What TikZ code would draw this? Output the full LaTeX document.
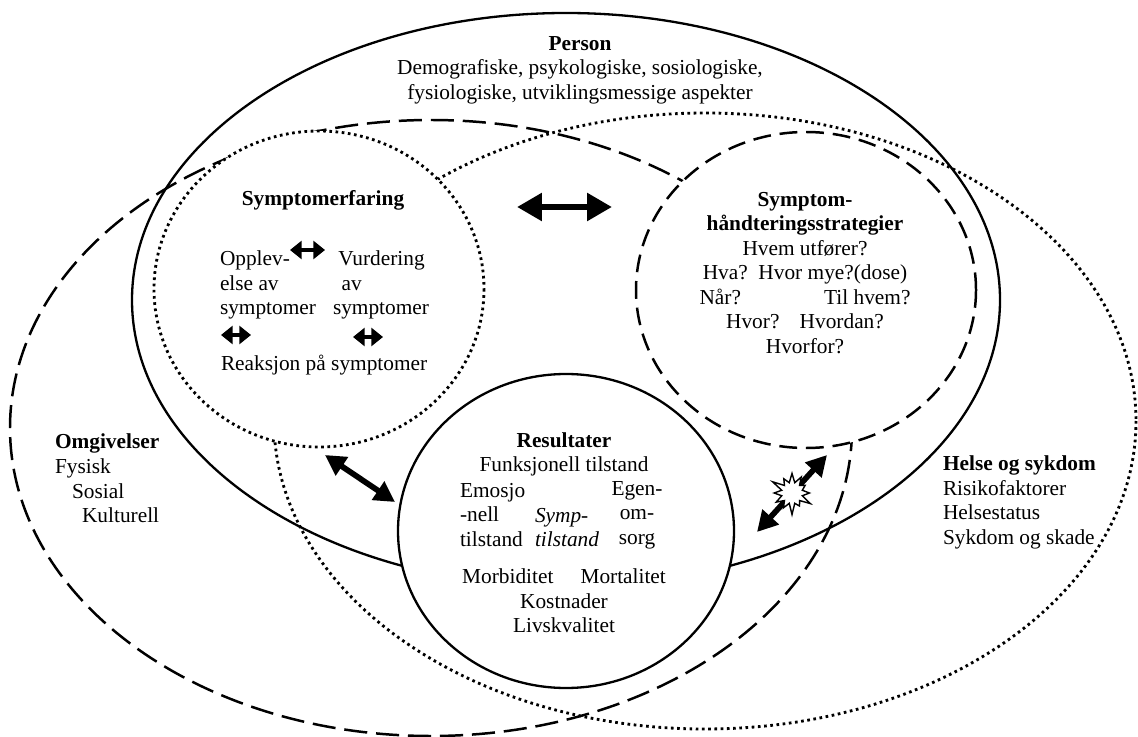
\documentclass[tikz,border=0pt]{standalone}
\usepackage{fontspec}
\setmainfont{Liberation Serif}
\usetikzlibrary{arrows.meta,shapes.symbols}

\begin{document}
\begin{tikzpicture}[x=0.5625pt,y=-0.5625pt,
  txt/.style={outer sep=0pt,inner sep=0pt,font=\fontsize{12pt}{13.8pt}\selectfont},
  itxt/.style={txt,font=\fontsize{12pt}{13.8pt}\selectfont\itshape},
  solidline/.style={line width=1.3pt},
  dashline/.style={line width=1.4pt,dash pattern=on 10pt off 5pt},
  longdash/.style={line width=1.4pt,dash pattern=on 13pt off 5pt},
  dotline/.style={line width=1.6pt,dash pattern=on 1.5pt off 2pt},
  bigarrow/.style={line width=3.6pt,{Triangle[length=14pt,width=15pt]}-{Triangle[length=14pt,width=15pt]}},
  midarrow/.style={line width=3.2pt,{Triangle[length=11.5pt,width=12pt]}-{Triangle[length=11.5pt,width=12pt]}},
  smallarrow/.style={line width=2.2pt,{Triangle[length=6.5pt,width=10pt]}-{Triangle[length=6.5pt,width=10pt]}}
]
\useasboundingbox (0,0) rectangle (1138,737);

% the three outer fields
\draw [solidline] (566,300) ellipse [x radius=434, y radius=287];
\draw [longdash]  (431,428) ellipse [x radius=421, y radius=308];
\draw [dotline]   (705,421) ellipse [x radius=431, y radius=308];

% the three inner circles
\draw [dotline, fill=white]   (319,289) ellipse [x radius=165, y radius=158];
\draw [dashline, fill=white]  (806,290) ellipse [x radius=170, y radius=158];
\draw [solidline, fill=white] (566,531) ellipse [x radius=168, y radius=157];

% Person
\node[txt,align=center] (person) at (580,70) {\textbf{Person}\\Demografiske, psykologiske, sosiologiske,\\fysiologiske, utviklingsmessige aspekter};

% Symptomerfaring
\node[txt] (erfaring) at (323,200) {\textbf{Symptomerfaring}};
\node[txt,align=left,anchor=west] (opplev) at (220,285) {Opplev-\\else av\\symptomer};
\node[txt,align=left,anchor=west] (vurd) at (333,285) {\hspace*{0.25em}Vurdering\\\hspace*{0.4em}av\\symptomer};
\node[txt,anchor=west] (reaksjon) at (221,365) {Reaksjon på symptomer};

\coordinate (sa1) at (290,250); \coordinate (sa2) at (325,250);
\coordinate (sb1) at (221,335); \coordinate (sb2) at (251,335);
\coordinate (sc1) at (353,337); \coordinate (sc2) at (383,337);
\draw [smallarrow] (sa1) -- (sa2);
\draw [smallarrow] (sb1) -- (sb2);
\draw [smallarrow] (sc1) -- (sc2);

% Symptomhandteringsstrategier
\node[txt,align=center] (strategi) at (805,273) {\textbf{Symptom-}\\\textbf{håndteringsstrategier}\\Hvem utfører?\\Hva?\hspace{0.5em}Hvor mye?(dose)\\Når?\hspace{3.9em}Til hvem?\\Hvor?\hspace{0.95em}Hvordan?\\Hvorfor?};

% Resultater
\node[txt,align=center] (result) at (564,454.5) {\textbf{Resultater}\\Funksjonell tilstand};
\node[txt,align=left,anchor=west] (emosjo) at (460,515) {Emosjo\\-nell\\tilstand};
\node[itxt,align=left,anchor=west] (symp) at (535,527.5) {Symp-\\tilstand};
\node[txt,align=center] (egen) at (637,515) {Egen-\\om-\\sorg};
\node[txt,align=center] (morb) at (564,601) {Morbiditet\hspace{1.27em}Mortalitet\\Kostnader\\Livskvalitet};

% Omgivelser, Helse og sykdom
\node[txt,align=left,anchor=west] (omgiv) at (55,478.5) {\textbf{Omgivelser}\\Fysisk\\\hspace*{0.8em}Sosial\\\hspace*{1.27em}Kulturell};
\node[txt,align=left,anchor=west] (helse) at (943,502.5) {\textbf{Helse og sykdom}\\Risikofaktorer\\Helsestatus\\Sykdom og skade};

% links between the circles
\coordinate (a1) at (517,207); \coordinate (a2) at (612,207);
\coordinate (b1) at (325,455); \coordinate (b2) at (395,502);
\coordinate (c1) at (757,532); \coordinate (c2) at (827,455);
\draw [bigarrow] (a1) -- (a2);
\draw [midarrow] (b1) -- (b2);
\draw [midarrow] (c1) -- (c2);
\node[starburst, draw, fill=white, line width=0.8pt, inner sep=0pt, minimum width=26pt, minimum height=26pt, starburst points=12, starburst point height=7pt] (konflikt) at (792,493) {};

\end{tikzpicture}
\end{document}
